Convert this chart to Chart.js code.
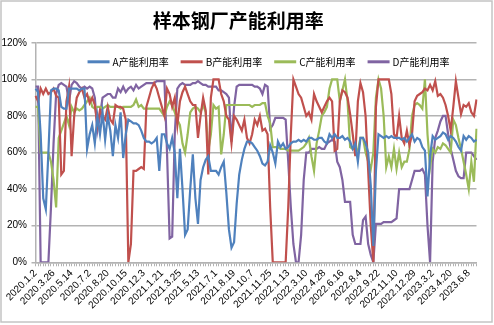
<!DOCTYPE html>
<html>
<head>
<meta charset="utf-8">
<script src="https://cdn.jsdelivr.net/npm/chart.js@4.4.0/dist/chart.umd.min.js"></script>
<style>
html, body { margin: 0; padding: 0; background: #fff; }
#wrap { position: relative; width: 494px; height: 325px; }
</style>
</head>
<body>
<div id="wrap"><canvas id="graphCanvas" width="494" height="325"></canvas></div>
<script>
// tick labels shown on the x axis, one every 7 weeks
var tickLabels = [
	'2020.1.2', '2020.3.26', '2020.5.14', '2020.7.2', '2020.8.20', '2020.10.15', '2020.12.3',
	'2021.1.21', '2021.3.25', '2021.5.13', '2021.7.1', '2021.8.19', '2021.10.7', '2021.11.25',
	'2022.1.13', '2022.3.10', '2022.4.28', '2022.6.16', '2022.8.4', '2022.9.22', '2022.11.10',
	'2022.12.29', '2023.3.2', '2023.4.20', '2023.6.8'
];

var seriesNames = ['A产能利用率', 'B产能利用率', 'C产能利用率', 'D产能利用率'];

// weekly utilisation, %
var rateA = [
	95,93,70,35,29,60,94,95,95,94,
	85,84,84,95,95,95,95,94,95,95,
	62,70,75,65,80,70,82,67,80,72,
	58,75,68,82,57,70,78,77,76,76,
	75,72,68,66,66,65,66,68,50,70,
	70,65,62,68,60,35,62,40,15,18,
	40,59,35,21,45,52,56,58,50,50,
	50,48,52,55,38,18,8,11,32,48,
	56,62,66,66,65,63,61,58,54,53,
	55,64,60,54,66,63,65,62,63,65,
	66,66,67,66,67,66,68,68,67,67,
	68,68,66,65,70,68,70,68,68,69,
	67,68,66,62,65,55,68,68,65,60,
	42,9,50,70,69,68,69,68,69,68,
	68,68,67,68,66,68,70,66,68,67,
	63,61,36,58,69,67,68,69,71,70,
	67,69,68,66,63,61,69,67,69,68,
	66,67
];
var rateB = [
	91,88,95,92,95,92,93,95,91,90,
	48,50,88,96,58,80,90,93,95,90,
	92,87,90,86,75,83,80,78,85,78,
	76,86,85,85,84,78,0,10,50,50,
	51,52,51,85,90,95,98,95,90,85,
	80,95,92,85,90,75,88,93,96,92,
	88,86,86,68,80,90,83,48,90,100,
	100,100,92,88,80,78,65,80,78,75,
	72,78,68,65,70,78,75,80,72,73,
	70,30,0,0,0,0,0,0,30,70,
	100,96,92,90,85,80,82,78,92,88,
	85,82,85,88,90,88,61,62,88,94,
	93,90,81,70,58,88,98,93,80,50,
	20,0,85,100,100,100,100,100,92,70,
	68,80,68,65,72,64,70,88,91,92,
	93,95,94,97,94,99,91,92,90,86,
	80,72,85,99,90,81,86,85,87,82,
	80,89
];
var rateC = [
	85,85,60,60,60,60,55,45,30,68,
	72,76,80,75,85,82,84,83,84,86,
	88,90,85,84,85,85,84,85,86,85,
	85,85,85,84,85,85,85,85,86,89,
	85,86,84,84,84,84,84,84,84,82,
	80,85,88,86,82,78,75,65,60,70,
	82,84,85,84,82,86,82,61,70,86,
	84,85,59,70,86,86,86,86,86,86,
	86,86,86,86,85,86,86,86,87,87,
	80,76,63,63,63,62,62,62,61,61,
	61,61,61,62,63,65,68,58,50,65,
	72,80,82,85,95,100,100,100,88,94,
	100,88,63,62,62,61,68,68,60,55,
	51,60,90,100,95,80,52,58,52,62,
	51,60,52,55,55,62,80,86,87,86,
	84,100,70,52,62,60,63,62,65,64,
	62,60,78,75,68,62,55,48,40,55,
	44,73
];
var rateD = [
	96,96,0,0,0,0,30,65,92,97,
	98,97,96,88,97,99,98,96,95,96,
	95,96,95,90,72,80,90,91,92,92,
	90,90,95,93,96,93,95,96,94,97,
	95,96,97,98,98,98,98,99,99,99,
	99,60,13,14,70,95,97,98,97,97,
	97,98,98,99,98,97,97,96,96,96,
	96,94,94,93,92,90,66,85,96,97,
	97,97,97,97,97,96,96,95,92,97,
	96,73,75,79,79,79,79,78,55,30,
	10,0,0,15,45,60,60,62,62,62,
	63,62,62,65,66,67,66,55,52,45,
	33,33,33,15,10,10,10,23,25,10,
	4,0,21,21,21,22,22,22,22,23,
	24,40,40,40,40,40,45,50,50,50,
	51,48,20,0,55,68,72,77,80,80,
	70,62,56,50,47,46,46,60,60,60,
	58,56
];

var yTicks = [0, 20, 40, 60, 80, 100, 120];

let plotColors = ['#4F81BD', '#C0504D', '#9BBB59', '#8064A2'];
let gridColor = '#b3b3b3';

// one category per week, label only every 7th
var categories = rateA.map(function (v, i) {
	return (i % 7 === 0 && tickLabels[i / 7]) ? tickLabels[i / 7] : '';
});

var frameBox = {
	id: 'frameBox',
	beforeDraw: function (chart) {
		var ctx = chart.ctx;
		ctx.save();
		ctx.fillStyle = '#ffffff';
		ctx.fillRect(0, 0, chart.width, chart.height);
		ctx.strokeStyle = '#c4c4c4';
		ctx.lineWidth = 1.5;
		ctx.strokeRect(1, 1, 491, 321);
		ctx.restore();
	}
};

// legend sits inside the plot, under the 120% line
var innerLegend = {
	id: 'innerLegend',
	afterDatasetsDraw: function (chart) {
		var ctx = chart.ctx;
		ctx.save();
		ctx.font = '10px "Noto Sans CJK SC"';
		var items = chart.data.datasets.map(function (ds) {
			return { text: ds.label, color: ds.borderColor, w: ctx.measureText(ds.label).width };
		});
		var lineLen = 22, gap = 3, spacing = 12;
		var total = items.reduce(function (s, it) { return s + lineLen + gap + it.w + spacing; }, 0) - spacing;
		var x = 268.5 - total / 2;
		var y = chart.chartArea.top + 19;
		items.forEach(function (it) {
			ctx.strokeStyle = it.color;
			ctx.lineWidth = 3;
			ctx.beginPath();
			ctx.moveTo(x, y);
			ctx.lineTo(x + lineLen, y);
			ctx.stroke();
			ctx.fillStyle = '#000';
			ctx.textAlign = 'left';
			ctx.textBaseline = 'middle';
			ctx.fillText(it.text, x + lineLen + gap, y);
			x += lineLen + gap + it.w + spacing;
		});
		ctx.restore();
	}
};

var makeSet = function (k, data) {
	return {
		label: seriesNames[k],
		data: data,
		borderColor: plotColors[k],
		backgroundColor: plotColors[k],
		borderWidth: 2.2,
		pointRadius: 0,
		tension: 0,
		fill: false
	};
};

var graphSettings = {
	type: 'line',
	data: {
		labels: categories,
		datasets: [makeSet(0, rateA), makeSet(1, rateB), makeSet(2, rateC), makeSet(3, rateD)]
	},
	options: {
		responsive: false,
		animation: false,
		layout: { padding: { top: 0, right: 17.5, bottom: 0, left: 0 } },
		scales: {
			x: {
				type: 'category',
				offset: false,
				afterFit: function (scale) { scale.height = 62.7; },
				grid: {
					drawOnChartArea: false,
					drawTicks: true,
					tickLength: 4,
					tickColor: gridColor,
					color: gridColor
				},
				border: { display: true, color: gridColor, width: 1.5 },
				ticks: {
					autoSkip: false,
					maxRotation: 45,
					minRotation: 45,
					padding: 1,
					color: '#000',
					font: { family: '"Liberation Sans", Arial', size: 10 }
				}
			},
			y: {
				min: 0,
				max: 120,
				afterFit: function (scale) { scale.width = 35.5; },
				afterBuildTicks: function (scale) {
					scale.ticks = yTicks.map(function (v) { return { value: v }; });
				},
				grid: {
					color: gridColor,
					lineWidth: 1.5,
					tickLength: 4,
					tickColor: gridColor
				},
				border: { display: true, color: gridColor, width: 1.5 },
				ticks: {
					padding: 4.5,
					color: '#000',
					font: { family: '"Liberation Sans", Arial', size: 10 },
					callback: function (v) { return v + '%'; }
				}
			}
		},
		plugins: {
			legend: { display: false },
			tooltip: { enabled: false },
			title: {
				display: true,
				text: '样本钢厂产能利用率',
				color: '#000',
				font: { family: '"Noto Sans CJK SC"', size: 19, weight: 'bold' },
				padding: { top: 9, bottom: 11 }
			}
		}
	},
	plugins: [frameBox, innerLegend]
};

var theGraph = new Chart(document.getElementById('graphCanvas'), graphSettings);
</script>
</body>
</html>
